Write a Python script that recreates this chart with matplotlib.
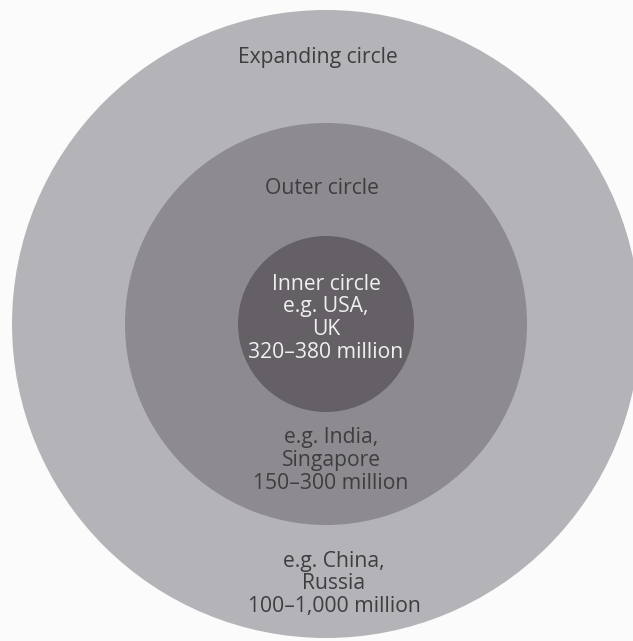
import matplotlib
matplotlib.use("Agg")
import matplotlib.pyplot as plt
from matplotlib.patches import Circle

# three concentric circles (radius in px, outermost first)
RING_NAMES = ["Expanding circle", "Outer circle", "Inner circle"]
RING_RADII = [314, 201, 88]
RING_COLORS = ["#b4b3b8", "#8d8b8f", "#656066"]

# text blocks: (lines, x, y of first line, colour)
LABELS = [
    (["Expanding circle"], 318, 57, "#3e3d40"),
    (["Outer circle"], 322, 189, "#3e3d40"),
    (["Inner circle", "e.g. USA,", "UK", "320\u2013380 million"], 326, 284, "#f0f0f0"),
    (["e.g. India,", "Singapore", "150\u2013300 million"], 331, 438, "#3e3d40"),
    (["e.g. China,", "Russia", "100\u20131,000 million"], 334, 561, "#3e3d40"),
]

CENTER = (326, 324)
LINE_GAP = 22.8

plt.rcParams["font.family"] = ["Open Sans", "DejaVu Sans"]

fig = plt.figure(figsize=(6.33, 6.41), dpi=100)
fig.patch.set_facecolor("#fbfbfb")
ax = fig.add_axes([0, 0, 1, 1])
ax.set_xlim(0, 633)
ax.set_ylim(641, 0)
ax.set_aspect("equal")
ax.axis("off")

for r, c in zip(RING_RADII, RING_COLORS):
    ax.add_patch(Circle(CENTER, r, facecolor=c, edgecolor="none"))

for lines, x, y, col in LABELS:
    for i, line in enumerate(lines):
        ax.text(x, y + i * LINE_GAP, line, ha="center", va="center",
                fontsize=15.2, color=col)

fig.savefig("out.png", dpi=100, facecolor=fig.get_facecolor())
